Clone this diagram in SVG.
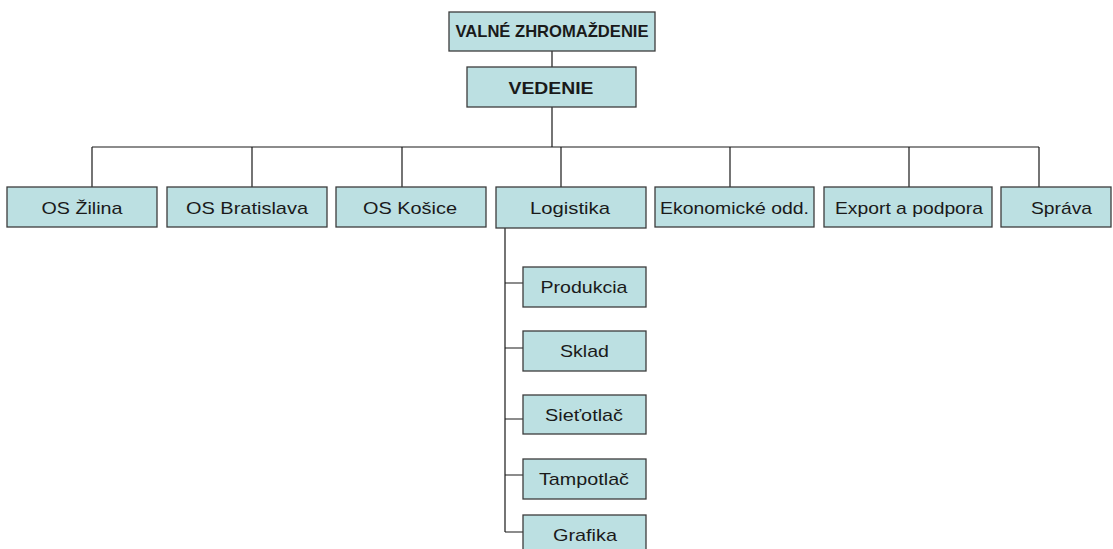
<svg xmlns="http://www.w3.org/2000/svg" width="1113" height="549" viewBox="0 0 1113 549">
<style>
.box{fill:#bce0e2;stroke:#3c3c3c;stroke-width:1.3}
.t{font-family:"Liberation Sans",Arial,sans-serif;font-size:17px;fill:#1a1a1a;text-anchor:middle}
.b{font-weight:bold}
.c{stroke:#1a1a1a;stroke-width:1.2;fill:none}
</style>
<rect width="1113" height="549" fill="#ffffff"/>
<g id="connectors" class="c">
<path d="M552 51V67M552 107V147M92 147H1039"/>
<path d="M92 147V187M252 147V187M402 147V187M561 147V187M730 147V187M909 147V187M1039 147V187"/>
<path d="M505 228V532M505 283H523M505 348H523M505 419H523M505 475H523M505 532H523"/>
</g>
<g id="valne"><rect class="box" x="449" y="12" width="206" height="39"/><text class="t b" x="552" y="36.5" font-size="15" textLength="193" lengthAdjust="spacingAndGlyphs">VALNÉ ZHROMAŽDENIE</text></g>
<g id="vedenie"><rect class="box" x="467" y="67" width="169" height="40"/><text class="t b" x="551" y="93.5" font-size="18" textLength="85" lengthAdjust="spacingAndGlyphs">VEDENIE</text></g>
<g id="os-zilina"><rect class="box" x="7" y="187" width="150" height="40"/><text class="t" x="82" y="214" textLength="81" lengthAdjust="spacingAndGlyphs">OS Žilina</text></g>
<g id="os-bratislava"><rect class="box" x="167" y="187" width="160" height="40"/><text class="t" x="247" y="214" textLength="122" lengthAdjust="spacingAndGlyphs">OS Bratislava</text></g>
<g id="os-kosice"><rect class="box" x="336" y="187" width="150" height="40"/><text class="t" x="410" y="214" textLength="94" lengthAdjust="spacingAndGlyphs">OS Košice</text></g>
<g id="logistika"><rect class="box" x="496" y="187" width="150" height="41"/><text class="t" x="570" y="214" textLength="80" lengthAdjust="spacingAndGlyphs">Logistika</text></g>
<g id="ekonomicke"><rect class="box" x="655" y="187" width="159" height="40"/><text class="t" x="734.5" y="214" textLength="149" lengthAdjust="spacingAndGlyphs">Ekonomické odd.</text></g>
<g id="export"><rect class="box" x="824" y="187" width="168" height="40"/><text class="t" x="909" y="214" textLength="148" lengthAdjust="spacingAndGlyphs">Export a podpora</text></g>
<g id="sprava"><rect class="box" x="1001" y="187" width="110" height="40"/><text class="t" x="1061.5" y="214" textLength="61" lengthAdjust="spacingAndGlyphs">Správa</text></g>
<g id="produkcia"><rect class="box" x="523" y="267" width="123" height="40"/><text class="t" x="584" y="293" textLength="87" lengthAdjust="spacingAndGlyphs">Produkcia</text></g>
<g id="sklad"><rect class="box" x="523" y="331" width="123" height="40"/><text class="t" x="584.5" y="357" textLength="49" lengthAdjust="spacingAndGlyphs">Sklad</text></g>
<g id="sietotlac"><rect class="box" x="523" y="395" width="123" height="39"/><text class="t" x="584" y="421" textLength="78" lengthAdjust="spacingAndGlyphs">Sieťotlač</text></g>
<g id="tampotlac"><rect class="box" x="523" y="459" width="123" height="40"/><text class="t" x="584" y="485" textLength="90" lengthAdjust="spacingAndGlyphs">Tampotlač</text></g>
<g id="grafika"><rect class="box" x="523" y="515" width="123" height="42"/><text class="t" x="585" y="541" textLength="64" lengthAdjust="spacingAndGlyphs">Grafika</text></g>
</svg>
